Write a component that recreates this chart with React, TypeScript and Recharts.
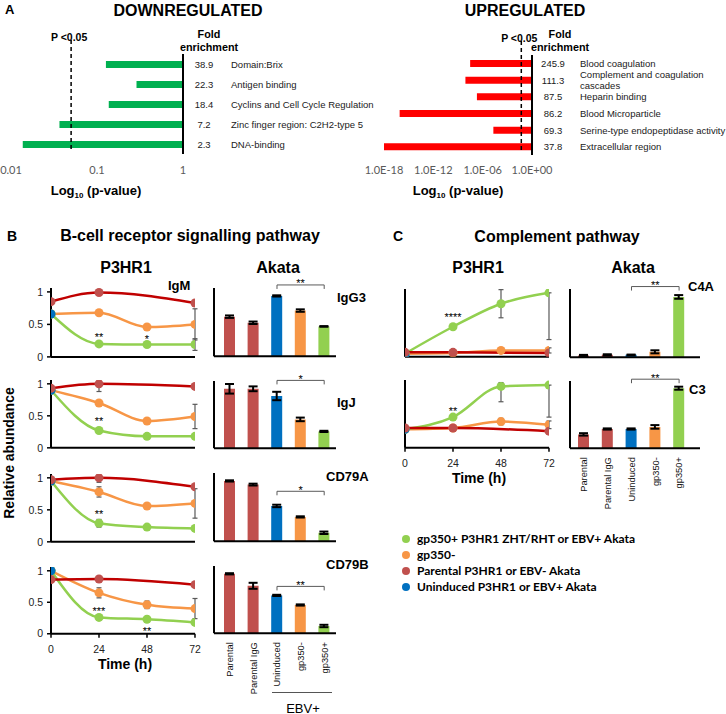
import React from 'react';
import {
  BarChart,
  Bar,
  LineChart,
  Line,
  XAxis,
  YAxis,
  ReferenceLine,
  ReferenceDot,
  ErrorBar,
  Cell,
} from 'recharts';

const SANS = '"Liberation Sans", Arial, sans-serif';
const CAL = 'Lato, "Open Sans", sans-serif';

const GREEN = '#92d050';
const ORANGE = '#f79646';
const BRICK = '#c0504d';
const CRIMSON = '#c00000';
const BLUE = '#0070c0';

// ---- A: functional enrichment (p-values) ----
const DOWN_TERMS = [
  'Domain:Brix',
  'Antigen binding',
  'Cyclins and Cell Cycle Regulation',
  'Zinc finger region: C2H2-type 5',
  'DNA-binding',
];
const DOWN_FOLD = [38.9, 22.3, 18.4, 7.2, 2.3];
const DOWN_P = [0.127, 0.288, 0.137, 0.0366, 0.0137];
const DOWN_TICKS = [0, 1, 2];

const UP_TERMS = [
  'Blood coagulation',
  'Complement and coagulation\ncascades',
  'Heparin binding',
  'Blood Microparticle',
  'Serine-type endopeptidase activity',
  'Extracellular region',
];
const UP_FOLD = [245.9, 111.3, 87.5, 86.2, 69.3, 37.8];
const UP_P = [3e-8, 8e-9, 2e-7, 8e-17, 2e-5, 1e-18];
const UP_TICKS = [0, 6, 12, 18];

// ---- B / C: P3HR1 time courses ----
const TIMES = [0, 24, 48, 72];

const IGM = {
  par: [0.85, 0.99, null, 0.83],
  neg: [0.66, 0.68, 0.46, 0.5],
  pos: [0.66, 0.2, 0.19, 0.19],
  unind: 0.66,
  parErr: [null, null, null, null],
  negErr: [null, null, null, 0.24],
  posErr: [null, null, null, 0.09],
};
const IGJ = {
  par: [0.93, 1.0, null, 0.96],
  neg: [0.9, 0.7, 0.42, 0.49],
  pos: [0.9, 0.27, 0.18, 0.18],
  unind: 0.9,
  parErr: [null, [0.12, 0], null, null],
  negErr: [null, null, null, 0.19],
  posErr: [null, 0.04, null, null],
};
const CD79A = {
  par: [0.97, 1.0, null, 0.86],
  neg: [0.95, 0.78, 0.56, 0.6],
  pos: [0.95, 0.29, 0.23, 0.21],
  unind: 0.95,
  parErr: [null, [0.07, 0], null, null],
  negErr: [null, 0.08, null, 0.23],
  posErr: [null, 0.06, null, null],
};
const CD79B = {
  par: [0.86, 0.87, null, 0.78],
  neg: [1.0, 0.65, 0.46, 0.4],
  pos: [1.0, 0.26, 0.23, 0.18],
  unind: 1.0,
  parErr: [null, null, null, null],
  negErr: [null, 0.08, 0.06, 0.16],
  posErr: [null, null, null, null],
};
const C4A = {
  par: [0.07, 0.07, null, 0.06],
  neg: [0.05, 0.06, 0.1, 0.1],
  pos: [0.05, 0.47, 0.83, 1.0],
  unind: 0.03,
  parErr: [null, null, null, null],
  negErr: [null, null, 0.04, 0.04],
  posErr: [null, null, 0.22, [0.73, 0]],
};
const C3 = {
  par: [0.31, 0.31, null, 0.26],
  neg: [0.29, 0.31, 0.41, 0.36],
  pos: [0.29, 0.48, 0.96, 0.98],
  unind: 0.29,
  parErr: [null, null, null, null],
  negErr: [null, null, 0.05, 0.06],
  posErr: [null, null, [0.24, 0.06], [0.5, 0]],
};

const IGM_STARS = [{ t: 24, y: 0.33, s: '**' }, { t: 48, y: 0.31, s: '*' }];
const IGJ_STARS = [{ t: 24, y: 0.45, s: '**' }];
const CD79A_STARS = [{ t: 24, y: 0.47, s: '**' }];
const CD79B_STARS = [{ t: 24, y: 0.39, s: '***' }, { t: 48, y: 0.08, s: '**' }];
const C4A_STARS = [{ t: 24, y: 0.66, s: '****' }];
const C3_STARS = [{ t: 24, y: 0.6, s: '**' }];

// ---- B / C: Akata bars ----
const AKATA_GROUPS = ['Parental', 'Parental IgG', 'Uninduced', 'gp350-', 'gp350+'];
const AKATA_COLORS = [BRICK, BRICK, BLUE, ORANGE, GREEN];

const IGG3_BARS = [0.65, 0.55, 0.99, 0.75, 0.49];
const IGG3_ERR = [0.02, 0.02, 0.01, 0.02, 0.005];
const IGJ_BARS = [0.99, 0.99, 0.87, 0.48, 0.28];
const IGJ_ERR = [0.08, 0.04, 0.07, 0.03, 0.01];
const CD79A_BARS = [0.99, 0.93, 0.58, 0.4, 0.14];
const CD79A_ERR = [0.01, 0.015, 0.02, 0.01, 0.02];
const CD79B_BARS = [0.99, 0.79, 0.63, 0.47, 0.12];
const CD79B_ERR = [0.01, 0.05, 0.01, 0.01, 0.02];
const C4A_BARS = [0.03, 0.04, 0.04, 0.09, 0.99];
const C4A_ERR = [0.01, 0.01, 0.005, 0.025, 0.03];
const C3_BARS = [0.23, 0.32, 0.32, 0.355, 1.0];
const C3_ERR = [0.02, 0.01, 0.01, 0.03, 0.025];

const LEGEND = [
  { label: 'gp350+ P3HR1 ZHT/RHT or EBV+ Akata', color: GREEN },
  { label: 'gp350-', color: ORANGE },
  { label: 'Parental P3HR1 or EBV- Akata', color: BRICK },
  { label: 'Uninduced P3HR1 or EBV+ Akata', color: BLUE },
];

const AX = { stroke: '#000', strokeWidth: 2 };
const TL = { stroke: '#000', strokeWidth: 1.5 };

function Txt({ x, y, size = 12, bold = false, center = false, family = SANS, children }: any) {
  return (
    <div
      style={{
        position: 'absolute',
        left: x,
        top: y,
        fontSize: size,
        fontWeight: bold ? 700 : 400,
        fontFamily: family,
        lineHeight: 1,
        whiteSpace: 'nowrap',
        color: '#000',
        transform: center ? 'translate(-50%, -50%)' : 'translate(0, -50%)',
      }}
    >
      {children}
    </div>
  );
}

const TermTick = ({ x, y, payload, rows }: any) => {
  const row = rows.find((r: any) => r.term === payload.value);
  const lines = String(payload.value).split('\n');
  return (
    <g fontFamily={SANS} fontSize={9.5} fill="#1a1a1a">
      <text x={x + 21} y={y + 3.5} textAnchor="middle">{row.fold.toFixed(1)}</text>
      <text x={x + 48} y={y + 3.5 - (lines.length - 1) * 5.5}>
        {lines.map((l, i) => (
          <tspan key={l} x={x + 48} dy={i ? 11 : 0}>{l}</tspan>
        ))}
      </text>
    </g>
  );
};

const PCut = (p: any) => {
  const top = Math.min(p.y1, p.y2);
  const bot = Math.max(p.y1, p.y2);
  return (
    <g>
      <line x1={p.x1} x2={p.x1} y1={top - 14} y2={bot - 3} stroke="#000" strokeWidth={1.5} strokeDasharray="4 3" />
      <text x={p.x1 - 2} y={top - 13} textAnchor="middle" fontSize={10.5} fontWeight={700} fontFamily={SANS}>
        P &lt;0.05
      </text>
    </g>
  );
};

function EnrichChart({ terms, fold, pvals, color, maxLog, ticks, fmt, left, width, margin, yWidth, tickMargin }: any) {
  const rows = terms.map((term: string, i: number) => ({ term, fold: fold[i], nlp: -Math.log10(pvals[i]) }));
  return (
    <div style={{ position: 'absolute', left, top: 0 }}>
      <BarChart width={width} height={200} data={rows} layout="vertical" margin={margin}>
        <XAxis
          type="number"
          domain={[0, maxLog]}
          reversed
          allowDataOverflow
          ticks={ticks}
          interval={0}
          tickFormatter={fmt}
          axisLine={false}
          tickLine={false}
          tickSize={6}
          tickMargin={tickMargin}
          height={30}
          tick={{ fontSize: 11, fill: '#595959', fontFamily: CAL }}
        />
        <YAxis
          type="category"
          dataKey="term"
          orientation="right"
          width={yWidth}
          interval={0}
          axisLine={AX}
          tickLine={false}
          tickSize={0}
          tickMargin={0}
          tick={(p: any) => <TermTick {...p} rows={rows} />}
        />
        <Bar dataKey="nlp" fill={color} barSize={7} isAnimationActive={false} />
        <ReferenceLine x={-Math.log10(0.05)} ifOverflow="visible" shape={(p: any) => <PCut {...p} />} />
      </BarChart>
    </div>
  );
}

function TimeCourse({ g, stars, left, y1, y0, xLabels, yLabels }: any) {
  const unit = y0 - y1;
  const ph = unit * 1.06;
  const YW = 40;
  const MT = 12;
  const MR = 14;
  const PW = 144;
  const XH = 30;
  const data = TIMES.map((t, i) => ({
    t,
    par: g.par[i],
    neg: g.neg[i],
    pos: g.pos[i],
    unind: i === 0 ? g.unind : null,
    parE: g.parErr[i],
    negE: g.negErr[i],
    posE: g.posErr[i],
  }));
  const dot = (c: string) => ({ r: 4.5, fill: c, stroke: c, strokeWidth: 0 });
  return (
    <div style={{ position: 'absolute', left: left - YW, top: y0 - ph - MT }}>
      <LineChart width={YW + PW + MR} height={MT + ph + XH} data={data} margin={{ top: MT, right: MR, left: 0, bottom: 0 }}>
        <XAxis
          dataKey="t"
          type="number"
          domain={[0, 72]}
          ticks={TIMES}
          interval={0}
          allowDataOverflow
          height={XH}
          axisLine={AX}
          tickLine={TL}
          tickSize={4}
          tickMargin={7.5}
          tick={xLabels ? { fontSize: 10.5, fill: '#222', fontFamily: SANS } : false}
        />
        <YAxis
          type="number"
          domain={[0, 1.06]}
          ticks={[0, 0.5, 1]}
          interval={0}
          allowDataOverflow
          width={YW}
          axisLine={AX}
          tickLine={TL}
          tickSize={4}
          tickMargin={4}
          tick={yLabels ? { fontSize: 10.5, fill: '#222', fontFamily: SANS } : false}
        />
        <Line dataKey="neg" type="monotone" stroke={ORANGE} strokeWidth={2.5} dot={dot(ORANGE)} activeDot={false} isAnimationActive={false}>
          <ErrorBar dataKey="negE" direction="y" width={2.5} stroke="#595959" strokeWidth={1.2} />
        </Line>
        <Line dataKey="pos" type="monotone" stroke={GREEN} strokeWidth={2.5} dot={dot(GREEN)} activeDot={false} isAnimationActive={false}>
          <ErrorBar dataKey="posE" direction="y" width={2.5} stroke="#595959" strokeWidth={1.2} />
        </Line>
        <Line dataKey="unind" stroke={BLUE} dot={dot(BLUE)} activeDot={false} isAnimationActive={false} />
        <Line dataKey="par" type="monotone" connectNulls stroke={CRIMSON} strokeWidth={2.5} dot={dot(BRICK)} activeDot={false} isAnimationActive={false}>
          <ErrorBar dataKey="parE" direction="y" width={2.5} stroke="#595959" strokeWidth={1.2} />
        </Line>
        {stars.map((s: any) => (
          <ReferenceDot
            key={`${s.t}-${s.s}`}
            x={s.t}
            y={s.y}
            r={0}
            shape={(p: any) => (
              <text x={p.cx} y={p.cy + 6} textAnchor="middle" fontSize={11} fontFamily={SANS} fill="#000">
                {s.s}
              </text>
            )}
          />
        ))}
      </LineChart>
    </div>
  );
}

const RotTick = ({ x, y, payload }: any) => (
  <g transform={`translate(${x},${y}) rotate(-90)`}>
    <text x={0} y={0} dy={3.3} textAnchor="end" fontSize={9.3} fontFamily={SANS} fill="#111">
      {payload.value}
    </text>
  </g>
);

const Bracket = (p: any) => (
  <g>
    <path d={`M${p.x1},${p.y1 + 4}V${p.y1}H${p.x2}V${p.y1 + 4}`} fill="none" stroke="#595959" strokeWidth={1} />
    <text x={(p.x1 + p.x2) / 2} y={p.y1 + 2.5} textAnchor="middle" fontSize={11} fontFamily={SANS} fill="#000" stroke="none">
      {p.stars}
    </text>
  </g>
);

function AkataBars({ vals, errs, left, pw, y1, y0, pad, bracketY, stars, xLabels }: any) {
  const unit = y0 - y1;
  const ph = unit * 1.12;
  const YW = 20;
  const MT = 24;
  const MR = 6;
  const XH = xLabels ? 70 : 2;
  const data = AKATA_GROUPS.map((g, i) => ({ g, v: vals[i], e: errs[i] }));
  return (
    <div style={{ position: 'absolute', left: left - YW, top: y0 - ph - MT }}>
      <BarChart width={YW + pw + MR} height={MT + ph + XH} data={data} margin={{ top: MT, right: MR, left: 0, bottom: 0 }}>
        <XAxis
          dataKey="g"
          type="category"
          height={XH}
          interval={0}
          padding={pad}
          axisLine={AX}
          tickLine={false}
          tickSize={0}
          tickMargin={9}
          tick={xLabels ? (p: any) => <RotTick {...p} /> : false}
        />
        <YAxis
          type="number"
          domain={[0, 1.12]}
          ticks={[0, 0.5, 1]}
          allowDataOverflow
          width={YW}
          axisLine={AX}
          tickLine={TL}
          tickSize={4}
          tick={false}
        />
        <Bar dataKey="v" barSize={11} isAnimationActive={false}>
          {AKATA_COLORS.map((c, i) => (
            <Cell key={i} fill={c} />
          ))}
          <ErrorBar dataKey="e" direction="y" width={4.5} stroke="#000" strokeWidth={2} />
        </Bar>
        <ReferenceLine
          segment={[{ x: 'Uninduced', y: bracketY }, { x: 'gp350+', y: bracketY }]}
          ifOverflow="visible"
          shape={(p: any) => <Bracket {...p} stars={stars} />}
        />
      </BarChart>
    </div>
  );
}

export default function App() {
  const padB = { left: 4, right: 0 };
  const padC = { left: 2, right: 9 };
  return (
    <div style={{ position: 'absolute', left: 0, top: 0, width: 726, height: 714, background: '#fff', overflow: 'hidden', fontFamily: SANS }}>
      {/* Panel A */}
      <Txt x={5} y={9} size={13} bold>A</Txt>
      <Txt x={188} y={11} size={16} bold center>DOWNREGULATED</Txt>
      <Txt x={525} y={11} size={16} bold center>UPREGULATED</Txt>
      {[209, 560].map((cx) => (
        <div
          key={cx}
          style={{
            position: 'absolute',
            left: cx,
            top: 41,
            transform: 'translate(-50%, -50%)',
            fontSize: 10.8,
            fontWeight: 700,
            lineHeight: '13px',
            textAlign: 'center',
            fontFamily: SANS,
          }}
        >
          Fold
          <br />
          enrichment
        </div>
      ))}
      <EnrichChart
        terms={DOWN_TERMS}
        fold={DOWN_FOLD}
        pvals={DOWN_P}
        color="#00b050"
        maxLog={2}
        ticks={DOWN_TICKS}
        fmt={(v: number) => ['1', '0.1', '0.01'][v]}
        left={0}
        width={400}
        margin={{ top: 54, left: 11, right: 0, bottom: 16 }}
        yWidth={217}
        tickMargin={6}
      />
      <EnrichChart
        terms={UP_TERMS}
        fold={UP_FOLD}
        pvals={UP_P}
        color="#ff0000"
        maxLog={18}
        ticks={UP_TICKS}
        fmt={(v: number) => (v === 0 ? '1.0E+00' : `1.0E-${String(v).padStart(2, '0')}`)}
        left={363}
        width={363}
        margin={{ top: 55, left: 21, right: 4, bottom: 15 }}
        yWidth={190}
        tickMargin={5}
      />
      {[96, 458].map((cx) => (
        <Txt key={cx} x={cx} y={192} size={13} bold center>
          Log<sub style={{ fontSize: 8 }}>10</sub> (p-value)
        </Txt>
      ))}

      {/* Panel B */}
      <Txt x={7} y={236} size={14} bold>B</Txt>
      <Txt x={190} y={236} size={16} bold center>B-cell receptor signalling pathway</Txt>
      <Txt x={126} y={268} size={16} bold center>P3HR1</Txt>
      <Txt x={278} y={268} size={16} bold center>Akata</Txt>
      <div
        style={{
          position: 'absolute',
          left: 9,
          top: 453,
          transform: 'translate(-50%, -50%) rotate(-90deg)',
          fontSize: 14,
          fontWeight: 700,
          whiteSpace: 'nowrap',
          fontFamily: SANS,
        }}
      >
        Relative abundance
      </div>

      <TimeCourse g={IGM} stars={IGM_STARS} left={51} y1={292} y0={357} yLabels />
      <TimeCourse g={IGJ} stars={IGJ_STARS} left={51} y1={384} y0={448} yLabels />
      <TimeCourse g={CD79A} stars={CD79A_STARS} left={51} y1={478} y0={542} yLabels />
      <TimeCourse g={CD79B} stars={CD79B_STARS} left={51} y1={571} y0={634} yLabels xLabels />
      <Txt x={125} y={664} size={14} bold center>Time (h)</Txt>

      <AkataBars vals={IGG3_BARS} errs={IGG3_ERR} left={214} pw={122} y1={295} y0={356} pad={padB} bracketY={1.17} stars="**" />
      <AkataBars vals={IGJ_BARS} errs={IGJ_ERR} left={214} pw={122} y1={388} y0={448} pad={padB} bracketY={1.13} stars="*" />
      <AkataBars vals={CD79A_BARS} errs={CD79A_ERR} left={214} pw={122} y1={480} y0={541} pad={padB} bracketY={0.82} stars="*" />
      <AkataBars vals={CD79B_BARS} errs={CD79B_ERR} left={214} pw={122} y1={573} y0={633} pad={padB} bracketY={0.78} stars="**" xLabels />

      <Txt x={168} y={285} size={13} bold>IgM</Txt>
      <Txt x={337} y={297} size={13} bold>IgG3</Txt>
      <Txt x={337} y={402} size={13} bold>IgJ</Txt>
      <Txt x={326} y={476} size={13} bold>CD79A</Txt>
      <Txt x={326} y={564} size={13} bold>CD79B</Txt>

      <div style={{ position: 'absolute', left: 272, top: 692, width: 60, borderTop: '1px solid #555' }} />
      <Txt x={303} y={708} size={13} center>EBV+</Txt>

      {/* Panel C */}
      <Txt x={393} y={236} size={14} bold>C</Txt>
      <Txt x={557} y={237} size={16} bold center>Complement pathway</Txt>
      <Txt x={478} y={268} size={16} bold center>P3HR1</Txt>
      <Txt x={633} y={268} size={16} bold center>Akata</Txt>

      <TimeCourse g={C4A} stars={C4A_STARS} left={405} y1={293} y0={357} />
      <TimeCourse g={C3} stars={C3_STARS} left={405} y1={384} y0={448} xLabels />
      <Txt x={479} y={478} size={14} bold center>Time (h)</Txt>

      <AkataBars vals={C4A_BARS} errs={C4A_ERR} left={570} pw={130} y1={296} y0={357} pad={padC} bracketY={1.16} stars="**" />
      <AkataBars vals={C3_BARS} errs={C3_ERR} left={570} pw={130} y1={388} y0={448} pad={padC} bracketY={1.15} stars="**" xLabels />

      <Txt x={688} y={286} size={13} bold>C4A</Txt>
      <Txt x={689} y={389} size={13} bold>C3</Txt>

      {/* legend */}
      {LEGEND.map((l, i) => (
        <div key={l.label} style={{ position: 'absolute', left: 402, top: 539 + i * 16, transform: 'translateY(-50%)', display: 'flex', alignItems: 'center' }}>
          <span style={{ width: 8, height: 8, borderRadius: 4, background: l.color, display: 'inline-block', marginRight: 7 }} />
          <span style={{ fontFamily: CAL, fontWeight: 700, fontSize: 12, lineHeight: 1, whiteSpace: 'nowrap' }}>{l.label}</span>
        </div>
      ))}
    </div>
  );
}
